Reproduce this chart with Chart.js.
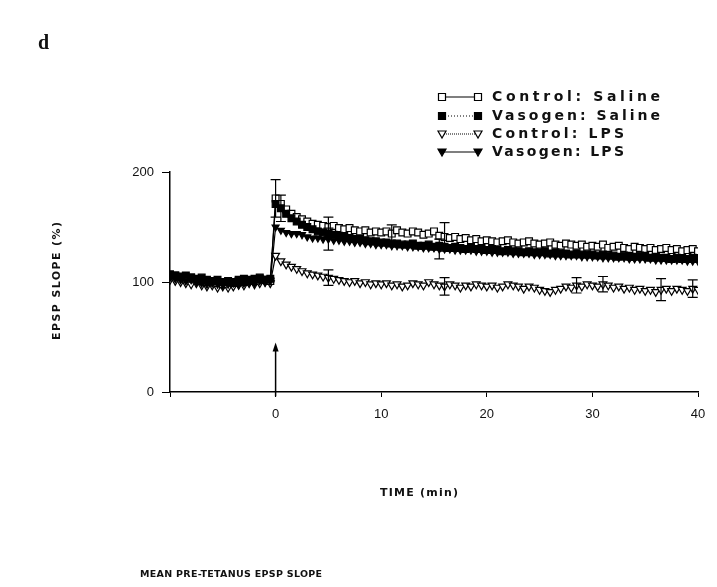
<!DOCTYPE html>
<html>
<head>
<meta charset="utf-8">
<script src="https://cdn.jsdelivr.net/npm/chart.js@4.4.1/dist/chart.umd.min.js"></script>
<style>
  html, body { margin: 0; padding: 0; background: #fff; }
  #wrap { position: relative; width: 717px; height: 587px; }
</style>
</head>
<body>
<div id="wrap">
  <canvas id="epspChart" width="717" height="587"></canvas>
</div>
<script>
// time points (min)
var preTimes = [-10, -9.5, -9, -8.5, -8, -7.5, -7, -6.5, -6, -5.5, -5, -4.5, -4, -3.5, -3, -2.5, -2, -1.5, -1, -0.5];
var postTimes = [0, 0.5, 1, 1.5, 2, 2.5, 3, 3.5, 4, 4.5,
                 5, 5.5, 6, 6.5, 7, 7.5, 8, 8.5, 9, 9.5,
                 10, 10.5, 11, 11.5, 12, 12.5, 13, 13.5, 14, 14.5,
                 15, 15.5, 16, 16.5, 17, 17.5, 18, 18.5, 19, 19.5,
                 20, 20.5, 21, 21.5, 22, 22.5, 23, 23.5, 24, 24.5,
                 25, 25.5, 26, 26.5, 27, 27.5, 28, 28.5, 29, 29.5,
                 30, 30.5, 31, 31.5, 32, 32.5, 33, 33.5, 34, 34.5,
                 35, 35.5, 36, 36.5, 37, 37.5, 38, 38.5, 39, 39.5,
                 40];

// EPSP slope (%)
var ctrlSalinePre = [105, 106, 104, 103, 104, 102, 101, 100, 101, 99, 98, 100, 99, 101, 100, 102, 101, 103, 102, 101];
var vasoSalinePre = [107, 106, 105, 106, 104, 103, 104, 102, 101, 102, 100, 101, 100, 102, 103, 101, 103, 104, 102, 103];
var ctrlLpsPre = [102, 101, 100, 99, 98, 99, 97, 96, 97, 95, 96, 95, 96, 98, 97, 99, 98, 99, 100, 99];
var vasoLpsPre = [104, 103, 102, 101, 102, 100, 99, 98, 99, 98, 97, 98, 99, 97, 99, 100, 99, 101, 100, 101];

var ctrlSalinePost = [176, 171, 166, 162, 159, 157, 155, 153, 152, 151,
                      150, 151, 149, 148, 149, 147, 146, 147, 145, 146,
                      145, 146, 144, 147, 145, 144, 146, 145, 143, 144,
                      146, 142, 141, 140, 141, 139, 140, 138, 139, 137,
                      138, 137, 136, 137, 138, 136, 135, 136, 137, 135,
                      134, 135, 136, 134, 133, 135, 134, 133, 134, 132,
                      133, 132, 134, 131, 132, 133, 131, 130, 132, 131,
                      130, 131, 129, 130, 131, 129, 130, 128, 129, 130,
                      128];
var vasoSalinePost = [171, 167, 162, 158, 155, 152, 150, 148, 146, 145,
                      144, 143, 142, 141, 140, 139, 139, 138, 137, 137,
                      136, 136, 135, 135, 134, 134, 135, 133, 133, 134,
                      132, 133, 132, 131, 132, 131, 130, 131, 130, 130,
                      129, 130, 129, 128, 129, 128, 128, 127, 128, 127,
                      127, 128, 126, 127, 126, 126, 125, 126, 125, 125,
                      125, 124, 125, 124, 124, 123, 124, 123, 123, 124,
                      123, 122, 123, 122, 122, 121, 122, 121, 121, 122,
                      121];
var ctrlLpsPost = [124, 119, 116, 114, 112, 110, 108, 107, 106, 105,
                   104, 103, 102, 101, 100, 101, 99, 100, 98, 99,
                   98, 99, 97, 98, 96, 97, 99, 98, 97, 100,
                   98, 97, 96, 98, 97, 95, 97, 96, 98, 97,
                   96, 97, 95, 96, 98, 97, 96, 94, 96, 95,
                   93, 92, 91, 93, 94, 96, 95, 97, 96, 98,
                   97, 96, 98, 97, 95, 96, 94, 95, 93, 94,
                   92, 93, 91, 93, 94, 92, 94, 93, 92, 94,
                   93];
var vasoLpsPost = [150, 147, 145, 144, 144, 143, 141, 140, 140, 139,
                   139, 138, 138, 137, 137, 136, 136, 135, 135, 134,
                   134, 134, 133, 133, 133, 132, 132, 132, 131, 131,
                   131, 130, 130, 130, 129, 129, 129, 129, 128, 128,
                   128, 127, 127, 127, 127, 126, 126, 126, 126, 125,
                   125, 125, 125, 124, 124, 124, 124, 124, 123, 123,
                   123, 123, 122, 122, 122, 122, 122, 121, 121, 121,
                   121, 121, 120, 120, 120, 120, 120, 120, 119, 119,
                   119];

// [time, s.e.m.] where an error bar is visible
var ctrlSalineErr = [[0, 17], [5, 9], [11, 8], [16, 13]];
var vasoSalineErr = [[0.5, 12]];
var ctrlLpsErr = [[5, 7], [16, 8], [28.5, 7], [31, 7], [36.5, 10], [39.5, 8]];
var vasoLpsErr = [[5, 10], [15.5, 9]];

var seriesNames = ['Control: Saline', 'Vasogen: Saline', 'Control: LPS', 'Vasogen: LPS'];
var xTicks = [0, 10, 20, 30, 40];

var allTimes = preTimes.concat(postTimes);
function pts(pre, post) {
    var v = pre.concat(post);
    return allTimes.map(function (t, i) { return { x: t, y: v[i] }; });
}

// marker drawing for the legend
function marker(ctx, kind, x, y) {
    ctx.save();
    ctx.lineWidth = 1.2;
    ctx.strokeStyle = '#000';
    ctx.fillStyle = (kind === 'openSq' || kind === 'openTri') ? '#fff' : '#000';
    ctx.beginPath();
    if (kind === 'openSq' || kind === 'fillSq') {
        ctx.rect(x - 3.5, y - 3.5, 7, 7);
    } else {
        ctx.moveTo(x - 4, y - 3);
        ctx.lineTo(x + 4, y - 3);
        ctx.lineTo(x, y + 4);
        ctx.closePath();
    }
    ctx.fill();
    ctx.stroke();
    ctx.restore();
}

function spaced(ctx, str, x, y, width) {
    ctx.letterSpacing = '0px';
    var w0 = ctx.measureText(str).width;
    ctx.letterSpacing = Math.max(0, (width - w0) / (str.length - 1)) + 'px';
    ctx.fillText(str, x, y);
    ctx.letterSpacing = '0px';
}

var extras = {
    id: 'extras',
    afterDatasetsDraw: function (chart) {
        var ctx = chart.ctx, xs = chart.scales.x, ys = chart.scales.y;
        var groups = [[ctrlSalineErr, ctrlSalinePost], [vasoSalineErr, vasoSalinePost],
                      [ctrlLpsErr, ctrlLpsPost], [vasoLpsErr, vasoLpsPost]];
        ctx.save();
        ctx.strokeStyle = '#000';
        ctx.lineWidth = 1.2;
        ctx.beginPath();
        groups.forEach(function (g) {
            g[0].forEach(function (e) {
                var m = g[1][postTimes.indexOf(e[0])];
                var px = xs.getPixelForValue(e[0]);
                var top = ys.getPixelForValue(m + e[1]);
                var bot = ys.getPixelForValue(m - e[1]);
                ctx.moveTo(px, top); ctx.lineTo(px, bot);
                ctx.moveTo(px - 5, top); ctx.lineTo(px + 5, top);
                ctx.moveTo(px - 5, bot); ctx.lineTo(px + 5, bot);
            });
        });
        ctx.stroke();

        // tetanus arrow
        var ax = xs.getPixelForValue(0);
        var a0 = ys.getPixelForValue(-4), a1 = ys.getPixelForValue(45);
        ctx.lineWidth = 1.5;
        ctx.beginPath();
        ctx.moveTo(ax, a0); ctx.lineTo(ax, a1 + 4);
        ctx.stroke();
        ctx.fillStyle = '#000';
        ctx.beginPath();
        ctx.moveTo(ax, a1); ctx.lineTo(ax - 3, a1 + 9); ctx.lineTo(ax + 3, a1 + 9);
        ctx.closePath();
        ctx.fill();
        ctx.restore();
    },
    afterDraw: function (chart) {
        var ctx = chart.ctx;
        ctx.save();
        ctx.fillStyle = '#111';
        ctx.strokeStyle = '#000';

        // legend
        var kinds = ['openSq', 'fillSq', 'openTri', 'fillTri'];
        var dashes = [[], [1, 2], [1, 1], []];
        var rows = [97, 116, 134, 152];
        ctx.font = 'bold 14px "DejaVu Sans"';
        ctx.textBaseline = 'middle';
        seriesNames.forEach(function (name, i) {
            ctx.lineWidth = 1.2;
            ctx.setLineDash(dashes[i]);
            ctx.beginPath();
            ctx.moveTo(442, rows[i]); ctx.lineTo(478, rows[i]);
            ctx.stroke();
            ctx.setLineDash([]);
            marker(ctx, kinds[i], 442, rows[i]);
            marker(ctx, kinds[i], 478, rows[i]);
            spaced(ctx, name, 492, rows[i], name.indexOf('Saline') > 0 ? 168 : 132);
        });

        // axis titles and caption
        ctx.font = 'bold 11px "DejaVu Sans"';
        ctx.textAlign = 'left';
        ctx.save();
        ctx.translate(57, 280);
        ctx.rotate(-Math.PI / 2);
        spaced(ctx, 'EPSP SLOPE (%)', -60, 0, 118);
        ctx.restore();
        spaced(ctx, 'TIME (min)', 380, 493, 78);
        ctx.font = 'bold 9.5px "DejaVu Sans"';
        spaced(ctx, 'MEAN PRE-TETANUS EPSP SLOPE', 140, 575, 182);

        // panel letter
        ctx.font = 'bold 20px "Liberation Serif"';
        ctx.fillText('d', 38, 44);
        ctx.restore();
    }
};

var ctx = document.getElementById('epspChart').getContext('2d');
var epspChart = new Chart(ctx, {
    type: 'line',
    data: {
        datasets: [{
            label: seriesNames[1],
            data: pts(vasoSalinePre, vasoSalinePost),
            pointStyle: 'rect', pointRadius: 4.8,
            pointBackgroundColor: '#000'
        }, {
            label: seriesNames[3],
            data: pts(vasoLpsPre, vasoLpsPost),
            pointStyle: 'triangle', rotation: 180, pointRadius: 4,
            pointBackgroundColor: '#000'
        }, {
            label: seriesNames[0],
            data: pts(ctrlSalinePre, ctrlSalinePost),
            pointStyle: 'rect', pointRadius: 4.8,
            pointBackgroundColor: '#fff'
        }, {
            label: seriesNames[2],
            data: pts(ctrlLpsPre, ctrlLpsPost),
            pointStyle: 'triangle', rotation: 180, pointRadius: 4.5,
            pointBackgroundColor: '#fff'
        }]
    },
    options: {
        responsive: false,
        animation: false,
        events: [],
        layout: { padding: { left: 110, right: 19, top: 172, bottom: 155 } },
        elements: {
            line: { borderColor: '#000', borderWidth: 1.2, tension: 0 },
            point: { borderColor: '#000', borderWidth: 1.2 }
        },
        plugins: { legend: { display: false }, tooltip: { enabled: false } },
        scales: {
            x: {
                type: 'linear', min: -10, max: 40,
                afterFit: function (s) { s.height = 40; },
                afterBuildTicks: function (s) { s.ticks = [-10].concat(xTicks).map(function (v) { return { value: v }; }); },
                ticks: {
                    color: '#111', padding: 10,
                    font: { family: 'Liberation Sans', size: 13 },
                    callback: function (v) { return v < 0 ? '' : v; }
                },
                grid: { drawOnChartArea: false, drawTicks: true, tickLength: 5, color: '#000' },
                border: { color: '#000', width: 1.5 }
            },
            y: {
                min: 0, max: 200,
                afterFit: function (s) { s.width = 60; },
                ticks: {
                    stepSize: 100, color: '#111', padding: 8,
                    font: { family: 'Liberation Sans', size: 13 }
                },
                grid: { drawOnChartArea: false, drawTicks: true, tickLength: 8, color: '#000' },
                border: { color: '#000', width: 1.5 }
            }
        }
    },
    plugins: [extras]
});
</script>
</body>
</html>
